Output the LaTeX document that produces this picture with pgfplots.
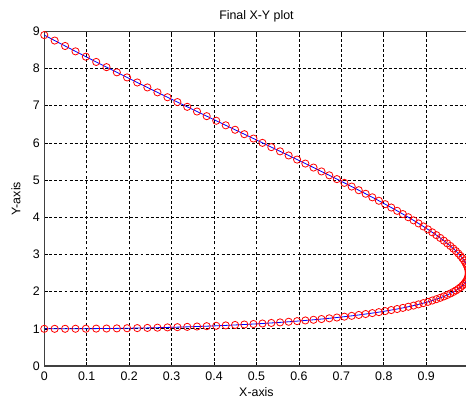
\documentclass[border=0pt]{standalone}
\usepackage{fontspec}
\setmainfont{Liberation Sans}
\usepackage{pgfplots}
\pgfplotsset{compat=1.18}
\begin{document}
\fontsize{9.3}{11}\selectfont
\begin{tikzpicture}
\path[use as bounding box] (-33.2pt,-26.25pt) rectangle (316.3pt,274.5pt);
\begin{axis}[
  at={(0,0)}, anchor=south west,
  scale only axis, width=318.3pt, height=251pt,
  xmin=0, xmax=1, ymin=0, ymax=9,
  xtick={0,0.1,0.2,0.3,0.4,0.5,0.6,0.7,0.8,0.9,1},
  xticklabels={0,0.1,0.2,0.3,0.4,0.5,0.6,0.7,0.8,0.9,},
  ytick={0,1,2,3,4,5,6,7,8,9},
  /pgf/number format/assume math mode=true,
  ticklabel style={font=\fontsize{9.3}{11}\selectfont},
  xticklabel style={yshift=-1pt},
  grid=major,
  major grid style={black, line width=0.55pt, dash pattern=on 2.2pt off 1.6pt},
  axis line style={black!75, line width=0.8pt},
  tick align=inside, major tick length=3pt,
  tick style={black, line width=0.45pt},
  every axis title shift=0pt,
  title={Final X-Y plot},
  title style={at={(axis description cs:0.5,1.0463)}, anchor=center, font=\fontsize{9.3}{11}\selectfont},
  xlabel={X-axis},
  xlabel style={at={(axis description cs:0.5,-0.0777)}, anchor=center, font=\fontsize{9.3}{11}\selectfont},
  ylabel={Y-axis},
  ylabel style={at={(axis description cs:-0.0666,0.5)}, anchor=center, font=\fontsize{9.3}{11}\selectfont},
]
\addplot[blue, line width=0.6pt, mark=o, mark size=2.7pt,
  mark options={red, solid, line width=0.6pt}] coordinates {
(0,1.000) (0.0245,1.000) (0.0491,1.001) (0.0736,1.002) (0.0980,1.003) (0.1224,1.006) (0.1467,1.008) (0.1710,1.012) (0.1951,1.016) (0.2191,1.020) (0.2430,1.025) (0.2667,1.031) (0.2903,1.038) (0.3137,1.045) (0.3369,1.053) (0.3599,1.062) (0.3827,1.071) (0.4052,1.081) (0.4276,1.092) (0.4496,1.104) (0.4714,1.116) (0.4929,1.129) (0.5141,1.143) (0.5350,1.158) (0.5556,1.173) (0.5758,1.190) (0.5957,1.207) (0.6152,1.225) (0.6344,1.243) (0.6532,1.263) (0.6716,1.283) (0.6895,1.304) (0.7071,1.327) (0.7243,1.349) (0.7410,1.373) (0.7572,1.398) (0.7730,1.423) (0.7884,1.449) (0.8032,1.477) (0.8176,1.505) (0.8315,1.533) (0.8449,1.563) (0.8577,1.594) (0.8701,1.625) (0.8819,1.658) (0.8932,1.691) (0.9040,1.725) (0.9142,1.761) (0.9239,1.797) (0.9330,1.834) (0.9415,1.871) (0.9495,1.910) (0.9569,1.950) (0.9638,1.991) (0.9700,2.032) (0.9757,2.075) (0.9808,2.118) (0.9853,2.163) (0.9892,2.208) (0.9925,2.254) (0.9952,2.302) (0.9973,2.350) (0.9988,2.399) (0.9997,2.449) (1.0000,2.500)
(0.9997,2.552) (0.9988,2.606) (0.9973,2.662) (0.9952,2.718) (0.9925,2.777) (0.9892,2.837) (0.9853,2.898) (0.9808,2.961) (0.9757,3.025) (0.9700,3.091) (0.9638,3.159) (0.9569,3.228) (0.9495,3.298) (0.9415,3.370) (0.9330,3.444) (0.9239,3.519) (0.9142,3.595) (0.9040,3.673) (0.8932,3.753) (0.8819,3.834) (0.8701,3.917) (0.8577,4.001) (0.8449,4.086) (0.8315,4.173) (0.8176,4.262) (0.8032,4.352) (0.7884,4.444) (0.7730,4.537) (0.7572,4.632) (0.7410,4.728) (0.7243,4.826) (0.7071,4.925) (0.6895,5.026) (0.6716,5.128) (0.6532,5.232) (0.6344,5.337) (0.6152,5.444) (0.5957,5.552) (0.5758,5.662) (0.5556,5.773) (0.5350,5.886) (0.5141,6.001) (0.4929,6.117) (0.4714,6.234) (0.4496,6.353) (0.4276,6.473) (0.4052,6.595) (0.3827,6.719) (0.3599,6.844) (0.3369,6.970) (0.3137,7.098) (0.2903,7.228) (0.2667,7.359) (0.2430,7.491) (0.2191,7.625) (0.1951,7.761) (0.1710,7.898) (0.1467,8.037) (0.1224,8.177) (0.0980,8.318) (0.0736,8.462) (0.0491,8.606) (0.0245,8.752) (0,8.900)
};
\end{axis}
\end{tikzpicture}
\end{document}
